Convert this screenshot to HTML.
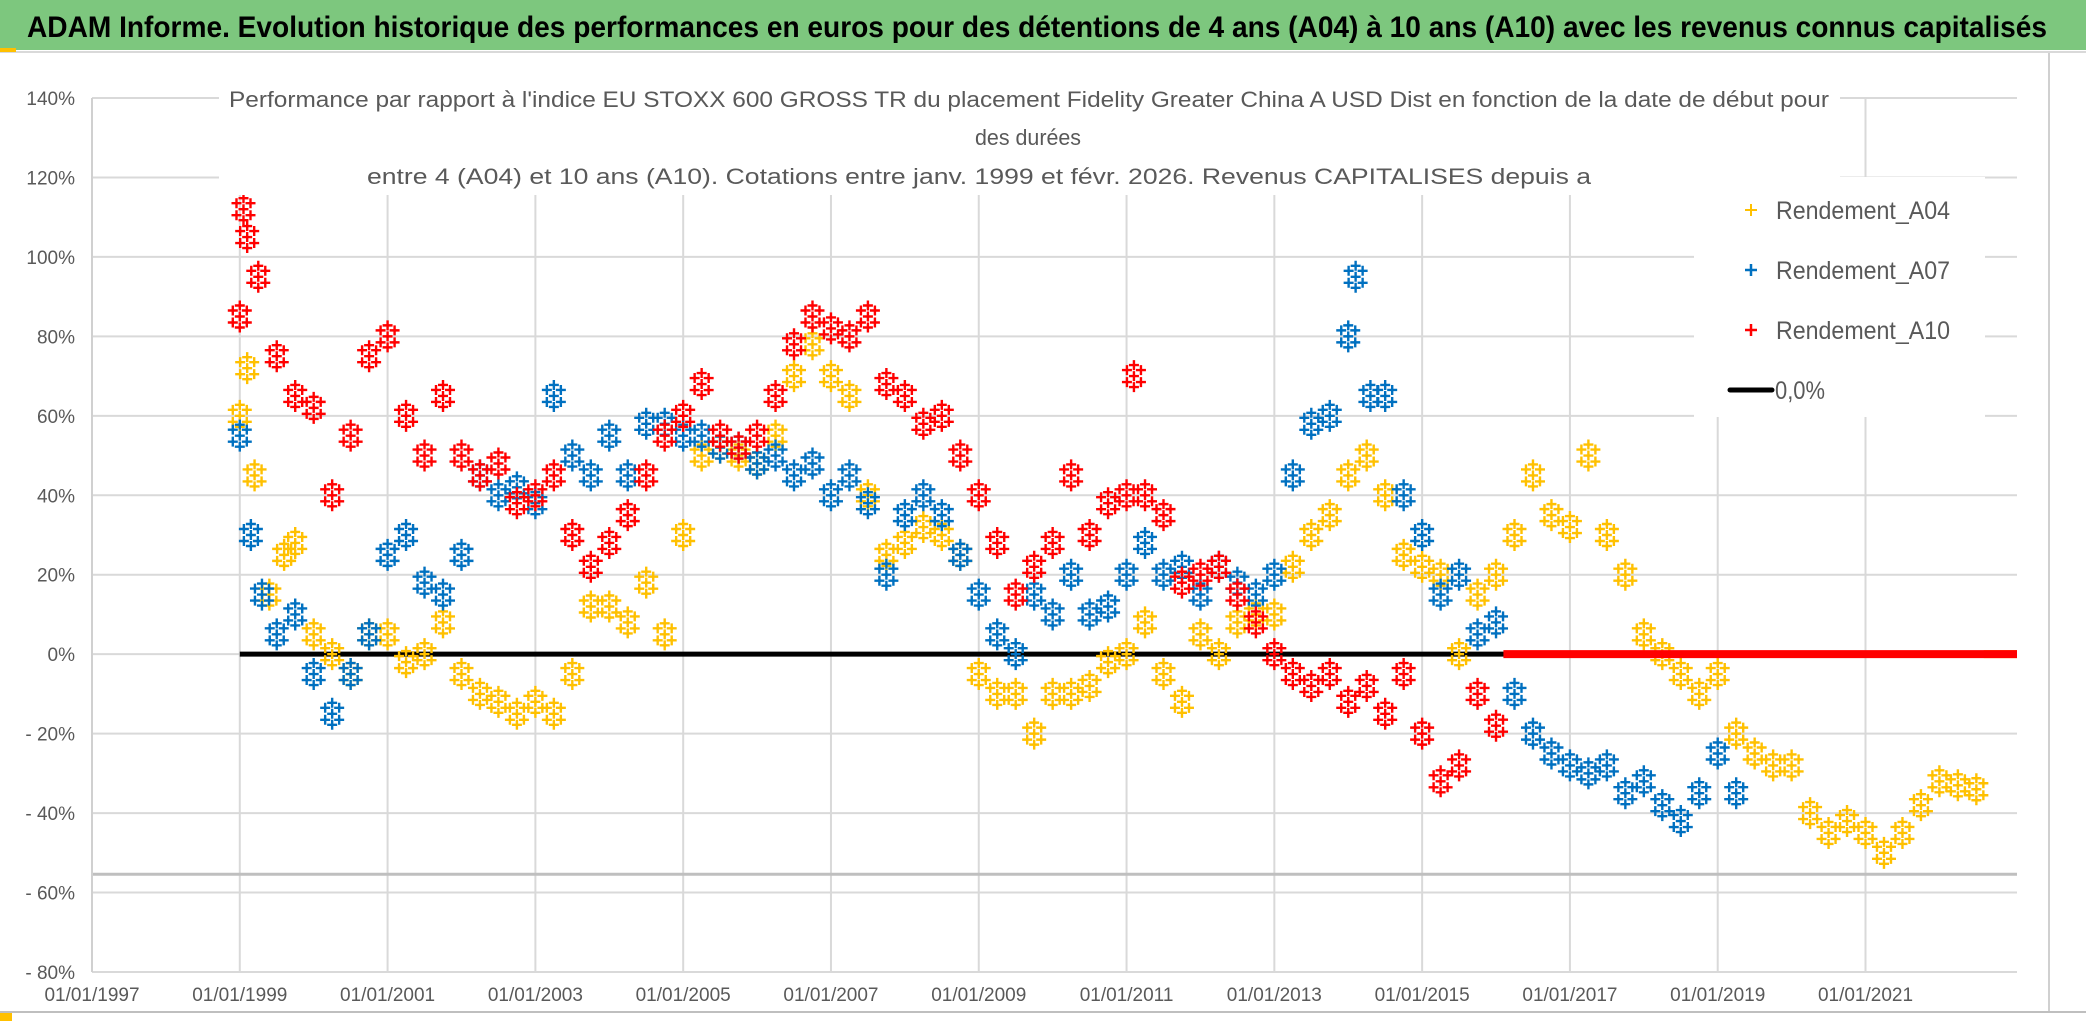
<!DOCTYPE html>
<html><head><meta charset="utf-8"><style>
html,body{margin:0;padding:0;background:#fff;}
svg{display:block;font-family:"Liberation Sans",sans-serif;}
</style></head><body>
<svg id="chart" width="2086" height="1031" viewBox="0 0 2086 1031" xmlns="http://www.w3.org/2000/svg">
<rect x="0" y="0" width="2086" height="1031" fill="#fff"/>
<rect x="0" y="0" width="2086" height="50" fill="#7DC77E"/>
<text x="27" y="37" font-size="30" font-weight="bold" fill="#000" textLength="2020" lengthAdjust="spacingAndGlyphs">ADAM Informe. Evolution historique des performances en euros pour des détentions de 4 ans (A04) à 10 ans (A10) avec les revenus connus capitalisés</text>
<rect x="0" y="51" width="2086" height="2" fill="#d9d9d9"/>
<rect x="0" y="48" width="16" height="4" fill="#FFC000"/>
<rect x="2048" y="53" width="2" height="960" fill="#d0d0d0"/>
<rect x="0" y="1011" width="2086" height="2" fill="#bfbfbf"/>
<rect x="0" y="1013" width="12" height="8" fill="#FFC000"/>
<g id="grid"></g>
<g id="axes"></g>
<g id="marks"></g>
<rect x="219" y="80" width="1621" height="115" fill="#fff"/>
<text x="1029" y="107" font-size="22" fill="#595959" text-anchor="middle" textLength="1600" lengthAdjust="spacingAndGlyphs">Performance par rapport à l'indice EU STOXX 600 GROSS TR  du placement Fidelity Greater China A USD Dist en fonction de la date de début pour</text>
<text x="1028" y="145" font-size="22" fill="#595959" text-anchor="middle" textLength="106" lengthAdjust="spacingAndGlyphs">des durées</text>
<text x="979" y="184" font-size="22" fill="#595959" text-anchor="middle" textLength="1224" lengthAdjust="spacingAndGlyphs">entre 4 (A04) et 10 ans (A10). Cotations entre janv. 1999 et févr. 2026. Revenus CAPITALISES depuis a</text>
<rect x="1694" y="177" width="291" height="240" fill="#fff"/>
<g><path d="M1745 210h12M1751 204v12" stroke="#FFC000" stroke-width="2"/><text x="1776" y="219" font-size="25" fill="#595959" textLength="174" lengthAdjust="spacingAndGlyphs">Rendement_A04</text></g>
<g><path d="M1745 270h12M1751 264v12" stroke="#0070C0" stroke-width="2.5"/><text x="1776" y="279" font-size="25" fill="#595959" textLength="174" lengthAdjust="spacingAndGlyphs">Rendement_A07</text></g>
<g><path d="M1745 330h12M1751 324v12" stroke="#FF0000" stroke-width="2.5"/><text x="1776" y="339" font-size="25" fill="#595959" textLength="174" lengthAdjust="spacingAndGlyphs">Rendement_A10</text></g>
<g><path d="M1730 390h42" stroke="#000" stroke-width="5" stroke-linecap="round"/><text x="1775" y="399" font-size="25" fill="#595959" textLength="50" lengthAdjust="spacingAndGlyphs">0,0%</text></g>
</svg>
<script>
const yTicks=[140,120,100,80,60,40,20,0,-20,-40,-60,-80];
const yTickLabels=["140%","120%","100%","80%","60%","40%","20%","0%","- 20%","- 40%","- 60%","- 80%"];
const xTicks=[1997,1999,2001,2003,2005,2007,2009,2011,2013,2015,2017,2019,2021];
const xTickLabels=["01/01/1997","01/01/1999","01/01/2001","01/01/2003","01/01/2005","01/01/2007","01/01/2009","01/01/2011","01/01/2013","01/01/2015","01/01/2017","01/01/2019","01/01/2021"];
const refLineValue=-55.4;
const xMax=2023.05;

const a10Dates=[1999.0,1999.05,1999.1,1999.25,1999.5,1999.75,2000.0,2000.25,2000.5,2000.75,2001.0,2001.25,2001.5,2001.75,2002.0,2002.25,2002.5,2002.75,2003.0,2003.25,2003.5,2003.75,2004.0,2004.25,2004.5,2004.75,2005.0,2005.25,2005.5,2005.75,2006.0,2006.25,2006.5,2006.75,2007.0,2007.25,2007.5,2007.75,2008.0,2008.25,2008.5,2008.75,2009.0,2009.25,2009.5,2009.75,2010.0,2010.25,2010.5,2010.75,2011.0,2011.1,2011.25,2011.5,2011.75,2012.0,2012.25,2012.5,2012.75,2013.0,2013.25,2013.5,2013.75,2014.0,2014.25,2014.5,2014.75,2015.0,2015.25,2015.5,2015.75,2016.0];
const a10Values=[85,112,105,95,75,65,62,40,55,75,80,60,50,65,50,45,48,38,40,45,30,22,28,35,45,55,60,68,55,52,55,65,78,85,82,80,85,68,65,58,60,50,40,28,15,22,28,45,30,38,40,70,40,35,18,20,22,15,8,0,-5,-8,-5,-12,-8,-15,-5,-20,-32,-28,-10,-18];
const a10ZeroStart=2016.1;

const a07Dates=[1999.0,1999.15,1999.3,1999.5,1999.75,2000.0,2000.25,2000.5,2000.75,2001.0,2001.25,2001.5,2001.75,2002.0,2002.25,2002.5,2002.75,2003.0,2003.25,2003.5,2003.75,2004.0,2004.25,2004.5,2004.75,2005.0,2005.25,2005.5,2005.75,2006.0,2006.25,2006.5,2006.75,2007.0,2007.25,2007.5,2007.75,2008.0,2008.25,2008.5,2008.75,2009.0,2009.25,2009.5,2009.75,2010.0,2010.25,2010.5,2010.75,2011.0,2011.25,2011.5,2011.75,2012.0,2012.25,2012.5,2012.75,2013.0,2013.25,2013.5,2013.75,2014.0,2014.1,2014.3,2014.5,2014.75,2015.0,2015.25,2015.5,2015.75,2016.0,2016.25,2016.5,2016.75,2017.0,2017.25,2017.5,2017.75,2018.0,2018.25,2018.5,2018.75,2019.0,2019.25];
const a07Values=[55,30,15,5,10,-5,-15,-5,5,25,30,18,15,25,45,40,42,38,65,50,45,55,45,58,58,55,55,52,52,48,50,45,48,40,45,38,20,35,40,35,25,15,5,0,15,10,20,10,12,20,28,20,22,15,22,18,15,20,45,58,60,80,95,65,65,40,30,15,20,5,8,-10,-20,-25,-28,-30,-28,-35,-32,-38,-42,-35,-25,-35];

const a04Dates=[1999.0,1999.1,1999.2,1999.4,1999.6,1999.75,2000.0,2000.25,2000.5,2000.75,2001.0,2001.25,2001.5,2001.75,2002.0,2002.25,2002.5,2002.75,2003.0,2003.25,2003.5,2003.75,2004.0,2004.25,2004.5,2004.75,2005.0,2005.25,2005.5,2005.75,2006.0,2006.25,2006.5,2006.75,2007.0,2007.25,2007.5,2007.75,2008.0,2008.25,2008.5,2008.75,2009.0,2009.25,2009.5,2009.75,2010.0,2010.25,2010.5,2010.75,2011.0,2011.25,2011.5,2011.75,2012.0,2012.25,2012.5,2012.75,2013.0,2013.25,2013.5,2013.75,2014.0,2014.25,2014.5,2014.75,2015.0,2015.25,2015.5,2015.75,2016.0,2016.25,2016.5,2016.75,2017.0,2017.25,2017.5,2017.75,2018.0,2018.25,2018.5,2018.75,2019.0,2019.25,2019.5,2019.75,2020.0,2020.25,2020.5,2020.75,2021.0,2021.25,2021.5,2021.75,2022.0,2022.25,2022.5];
const a04Values=[60,72,45,15,25,28,5,0,-5,5,5,-2,0,8,-5,-10,-12,-15,-12,-15,-5,12,12,8,18,5,30,50,52,50,48,55,70,78,70,65,40,25,28,32,30,25,-5,-10,-10,-20,-10,-10,-8,-2,0,8,-5,-12,5,0,8,10,10,22,30,35,45,50,40,25,22,20,0,15,20,30,45,35,32,50,30,20,5,0,-5,-10,-5,-20,-25,-28,-28,-40,-45,-42,-45,-50,-45,-38,-32,-33,-34];
const a04ZeroStart=2022.6;

const zeroLineStart=1999.0, zeroLineEnd=2016.2;

const NS="http://www.w3.org/2000/svg";
const X0=92, X1=2017, Y_TOP=98, Y_BOT=972;
function xScale(yr){return X0+(yr-1997)*((X1-X0)/(xMax-1997));}
function yScale(v){return Y_TOP+(140-v)*(Y_BOT-Y_TOP)/220;}
function mk(tag,attrs,parent){const e=document.createElementNS(NS,tag);for(const k in attrs)e.setAttribute(k,attrs[k]);parent.appendChild(e);return e;}

const grid=document.getElementById('grid');
const axes=document.getElementById('axes');
const marks=document.getElementById('marks');

yTicks.forEach((v,i)=>{
  const l=mk('line',{x1:X0,x2:X1,y1:yScale(v),y2:yScale(v),stroke:'#d9d9d9','stroke-width':2},grid);
  
  
  const t=mk('text',{x:75,y:yScale(v)+7,'font-size':19,fill:'#595959','text-anchor':'end'},axes);
  t.textContent=yTickLabels[i];
  
  
});
xTicks.forEach((yr,i)=>{
  const l=mk('line',{x1:xScale(yr),x2:xScale(yr),y1:Y_TOP,y2:Y_BOT,stroke:'#d9d9d9','stroke-width':2},grid);
  
  
  const t=mk('text',{x:xScale(yr),y:1001,'font-size':19,fill:'#595959','text-anchor':'middle'},axes);
  t.textContent=xTickLabels[i];
  
  
});
const ref=mk('line',{x1:X0,x2:X1,y1:yScale(refLineValue),y2:yScale(refLineValue),stroke:'#bfbfbf','stroke-width':3},grid);


const ax=mk('line',{x1:X0,x2:X0,y1:Y_TOP,y2:Y_BOT,stroke:'#d0d0d0','stroke-width':2},grid);



// marker glyph: a small cluster of "+" signs to mimic the dense daily scatter
const glyph=[[0,0],[-7,-6],[7,6],[-7,6],[7,-6],[0,-11],[0,11]];
function drawSeries(dates,values,color,name){
  const g=mk('g',{},marks);
  
  
  let d='';
  dates.forEach((yr,i)=>{
    const x=xScale(yr), y=yScale(values[i]);
    glyph.forEach(o=>{const px=x+o[0],py=y+o[1];d+=`M${px-5} ${py}h10M${px} ${py-5}v10`;});
  });
  const p=mk('path',{d:d,stroke:color,'stroke-width':2.4,fill:'none'},g);
  
  
}
const zl=mk('line',{x1:xScale(zeroLineStart),x2:xScale(zeroLineEnd),y1:yScale(0),y2:yScale(0),stroke:'#000','stroke-width':5},marks);


drawSeries(a04Dates,a04Values,'#FFC000','series-a04');
drawSeries(a07Dates,a07Values,'#0070C0','series-a07');
drawSeries(a10Dates,a10Values,'#FF0000','series-a10');
const z4=mk('line',{x1:xScale(a04ZeroStart),x2:xScale(xMax),y1:yScale(0),y2:yScale(0),stroke:'#FFC000','stroke-width':8},marks);


const z10=mk('line',{x1:xScale(a10ZeroStart),x2:xScale(xMax),y1:yScale(0),y2:yScale(0),stroke:'#FF0000','stroke-width':8},marks);


</script>
</body></html>
